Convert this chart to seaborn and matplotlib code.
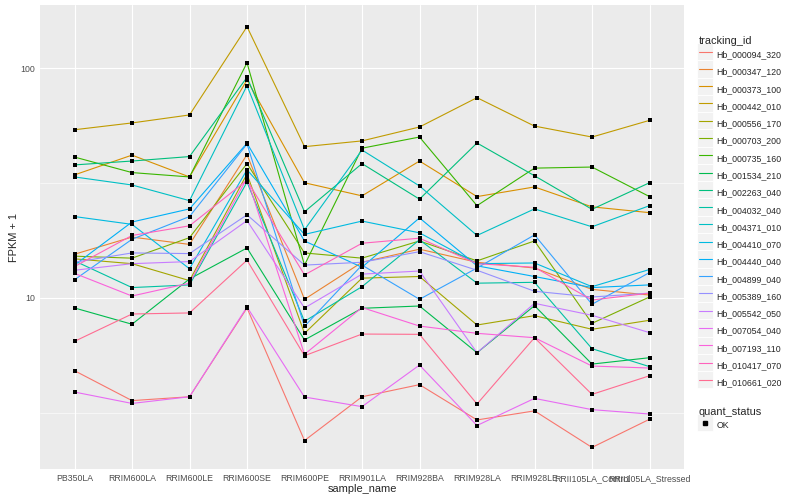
import matplotlib
matplotlib.use("Agg")
import matplotlib.pyplot as plt
import matplotlib.ticker as mticker
from matplotlib.lines import Line2D
from matplotlib.patches import Rectangle
from matplotlib.transforms import IdentityTransform
import pandas as pd
import seaborn as sns

samples = ["PB350LA", "RRIM600LA", "RRIM600LE", "RRIM600SE", "RRIM600PE", "RRIM901LA",
           "RRIM928BA", "RRIM928LA", "RRIM928LE", "RRII105LA_Control", "RRII105LA_Stressed"]

genes = ["Hb_000094_320", "Hb_000347_120", "Hb_000373_100", "Hb_000442_010", "Hb_000556_170",
         "Hb_000703_200", "Hb_000735_160", "Hb_001534_210", "Hb_002263_040", "Hb_004032_040",
         "Hb_004371_010", "Hb_004410_070", "Hb_004440_040", "Hb_004899_040", "Hb_005389_160",
         "Hb_005542_050", "Hb_007054_040", "Hb_007193_110", "Hb_010417_070", "Hb_010661_020"]

# FPKM + 1 per sample
hb_000094_320 = [4.83, 3.58, 3.72, 9.05, 2.40, 3.72, 4.20, 2.95, 3.23, 2.24, 2.97]
hb_000347_120 = [15.5, 18.4, 17.1, 42.0, 9.87, 14.3, 16.3, 14.3, 13.5, 10.9, 10.3]
hb_000373_100 = [34.3, 41.8, 33.6, 88.7, 31.7, 27.8, 39.4, 27.6, 30.4, 24.9, 23.5]
hb_000442_010 = [53.9, 57.7, 62.5, 151.2, 45.5, 48.2, 55.4, 74.3, 55.9, 50.1, 59.2]
hb_000556_170 = [14.8, 14.1, 11.9, 34.6, 7.02, 12.2, 12.4, 7.63, 8.38, 7.31, 8.00]
hb_000703_200 = [15.2, 14.9, 18.3, 38.4, 15.7, 14.9, 17.7, 14.5, 17.7, 7.76, 10.1]
hb_000735_160 = [41.0, 35.1, 33.6, 105.4, 13.9, 44.8, 50.1, 25.2, 36.7, 37.1, 27.6]
hb_001534_210 = [9.05, 7.69, 12.1, 16.5, 6.57, 9.02, 9.23, 5.78, 9.26, 5.16, 5.50]
hb_002263_040 = [37.9, 39.4, 41.2, 91.1, 23.7, 38.4, 26.9, 47.2, 34.0, 24.3, 31.7]
hb_004032_040 = [14.5, 11.1, 11.4, 31.9, 7.92, 11.2, 17.9, 11.6, 11.7, 6.02, 5.03]
hb_004371_010 = [33.6, 31.0, 26.5, 83.8, 19.8, 44.0, 30.7, 18.7, 24.4, 20.4, 25.2]
hb_004410_070 = [22.6, 20.9, 13.4, 36.1, 18.9, 21.6, 19.2, 14.1, 14.2, 11.2, 13.3]
hb_004440_040 = [13.9, 21.4, 24.4, 47.1, 17.7, 13.6, 22.3, 13.8, 12.4, 11.1, 11.4]
hb_004899_040 = [12.0, 18.0, 22.6, 46.7, 7.53, 13.9, 9.87, 13.5, 18.8, 9.39, 12.9]
hb_005389_160 = [14.3, 15.7, 15.6, 23.0, 13.9, 14.3, 15.9, 13.2, 10.7, 10.1, 10.5]
hb_005542_050 = [13.2, 14.1, 14.4, 21.7, 9.05, 12.7, 13.1, 5.78, 9.48, 8.41, 7.07]
hb_007054_040 = [3.90, 3.48, 3.72, 9.14, 3.71, 3.37, 5.11, 2.79, 3.66, 3.27, 3.13]
hb_007193_110 = [12.8, 10.2, 11.6, 33.2, 5.69, 9.09, 7.55, 7.02, 6.72, 5.06, 4.96]
hb_010417_070 = [13.7, 18.7, 20.6, 32.5, 12.6, 17.3, 18.2, 14.1, 13.6, 9.80, 10.5]
hb_010661_020 = [6.48, 8.52, 8.61, 14.6, 5.61, 6.97, 6.95, 3.46, 6.72, 3.81, 4.59]

series = [hb_000094_320, hb_000347_120, hb_000373_100, hb_000442_010, hb_000556_170,
          hb_000703_200, hb_000735_160, hb_001534_210, hb_002263_040, hb_004032_040,
          hb_004371_010, hb_004410_070, hb_004440_040, hb_004899_040, hb_005389_160,
          hb_005542_050, hb_007054_040, hb_007193_110, hb_010417_070, hb_010661_020]

# ggplot2 default hue palette for 20 levels
palette = ["#F8766D", "#EA8331", "#D89000", "#C09B00", "#A3A500", "#7CAE00", "#39B600",
           "#00BB4E", "#00BF7D", "#00C1A3", "#00BFC4", "#00BAE0", "#00B0F6", "#35A2FF",
           "#9590FF", "#C77CFF", "#E76BF3", "#FA62DB", "#FF62BC", "#FF6C91"]

rows = []
for gene, values in zip(genes, series):
    for sample, v in zip(samples, values):
        rows.append({"tracking_id": gene, "sample_name": sample, "fpkm": v, "quant_status": "OK"})
df = pd.DataFrame(rows)

sns.set_style("darkgrid", {"axes.facecolor": "#EBEBEB", "grid.color": "white"})
plt.rcParams["font.family"] = ["Liberation Sans", "DejaVu Sans"]

fig = plt.figure(figsize=(8, 5), dpi=100)
ax = fig.add_axes([40 / 800, 1 - 469 / 500, (684 - 40) / 800, (469 - 5) / 500])

sns.lineplot(data=df, x="sample_name", y="fpkm", hue="tracking_id", hue_order=genes,
             palette=palette, estimator=None, sort=False, linewidth=0.8, ax=ax, legend=False)
sns.scatterplot(data=df, x="sample_name", y="fpkm", color="black", marker="s", s=9,
                linewidth=0, ax=ax, legend=False, zorder=3)

ax.set_yscale("log")
ax.set_ylim(1.805, 187.9)
ax.set_xlim(-0.6, 10.6)
ax.yaxis.set_major_locator(mticker.FixedLocator([10, 100]))
ax.yaxis.set_major_formatter(mticker.FixedFormatter(["10", "100"]))
ax.yaxis.set_minor_locator(mticker.FixedLocator([10 ** 0.5, 10 ** 1.5]))
ax.yaxis.set_minor_formatter(mticker.NullFormatter())
ax.grid(which="major", color="white", linewidth=0.8)
ax.grid(which="minor", axis="y", color="white", linewidth=0.4)
ax.tick_params(which="minor", length=0)
ax.tick_params(which="major", length=2, width=0.6, color="#333333", labelsize=6.3,
               labelcolor="#4D4D4D", pad=1.5)
for s in ax.spines.values():
    s.set_visible(False)
ax.set_xlabel("sample_name", fontsize=7.9, labelpad=1)
ax.set_ylabel("FPKM + 1", fontsize=7.9, labelpad=1)

legend_kw = dict(loc="upper left", frameon=False, fontsize=6.3, title_fontsize=7.9,
                 handlelength=1.5, handleheight=2.66, labelspacing=0, handletextpad=0.55,
                 borderpad=0, borderaxespad=0, alignment="left")
handles = [Line2D([], [], color=c, linewidth=0.8) for c in palette]
leg1 = fig.legend(handles, genes, title="tracking_id",
                  bbox_to_anchor=(698.5 / 800, 1 - 36 / 500), **legend_kw)
ok_handle = Line2D([], [], marker="s", color="black", linestyle="none", markersize=2.8)
leg2 = fig.legend([ok_handle], ["OK"], title="quant_status",
                  bbox_to_anchor=(698.5 / 800, 1 - 407 / 500), **legend_kw)

# grey key boxes behind legend handles, like ggplot
fig.canvas.draw()
renderer = fig.canvas.get_renderer()
for leg in (leg1, leg2):
    for h in leg.legend_handles:
        bb = h.get_window_extent(renderer)
        xc = (bb.x0 + bb.x1) / 2
        yc = (bb.y0 + bb.y1) / 2
        fig.add_artist(Rectangle((xc - 8.3, yc - 8.6), 16.6, 17.2, transform=IdentityTransform(),
                                 facecolor="#F2F2F2", edgecolor="white", linewidth=0.6, zorder=0))

fig.savefig("out.png", dpi=100)
